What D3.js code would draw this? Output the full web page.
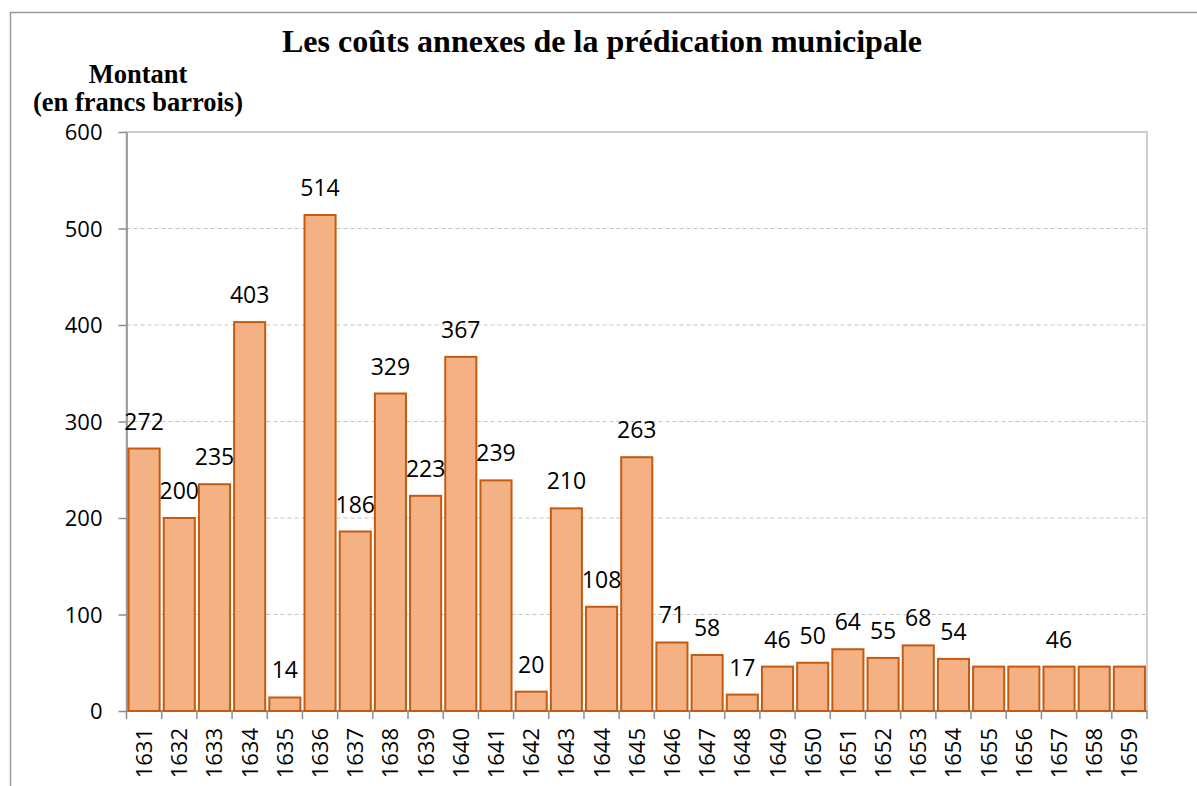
<!DOCTYPE html>
<html>
<head>
<meta charset="utf-8">
<script src="https://cdn.jsdelivr.net/npm/d3@7"></script>
<style>
  html, body { margin: 0; padding: 0; background: #fff; }
  svg { display: block; }
  .num { font-family: "Open Sans", "Noto Sans", sans-serif; font-size: 22px; fill: #000; }
  .lbl { font-size: 23px; }
  .serif { font-family: "Liberation Serif", "Times New Roman", serif; font-weight: bold; fill: #000; }
</style>
</head>
<body>
<svg id="chart" width="1197" height="786"></svg>
<script>
// ─── Data ────────────────────────────────────────────────────
const years = ["1631", "1632", "1633", "1634", "1635", "1636", "1637", "1638", "1639", "1640",
  "1641", "1642", "1643", "1644", "1645", "1646", "1647", "1648", "1649", "1650",
  "1651", "1652", "1653", "1654", "1655", "1656", "1657", "1658", "1659"];
const amounts = [272, 200, 235, 403, 14, 514, 186, 329, 223, 367,
  239, 20, 210, 108, 263, 71, 58, 17, 46, 50,
  64, 55, 68, 54, 46, 46, 46, 46, 46];
// years whose value label is not shown in the original
const unlabelled = ["1655", "1656", "1658", "1659"];
const yTicks = [0, 100, 200, 300, 400, 500, 600];

const title = "Les coûts annexes de la prédication municipale";
const yTitle = ["Montant", "(en francs barrois)"];

// ─── Layout ──────────────────────────────────────────────────
const svg = d3.select("#chart");
const plot = { left: 126.5, right: 1147, top: 132, bottom: 711 };

const x = d3.scaleBand()
  .domain(years)
  .range([plot.left, plot.right])
  .paddingInner(0.06)
  .paddingOuter(0.03);

const y = d3.scaleLinear()
  .domain([0, 600])
  .range([plot.bottom, plot.top]);

// outer chart frame
svg.append("rect")
  .attr("x", 10.5).attr("y", 12.5)
  .attr("width", 1300).attr("height", 900)
  .attr("fill", "none")
  .attr("stroke", "#9a9a9a")
  .attr("stroke-width", 1.5);

// plot area border
svg.append("rect")
  .attr("x", plot.left).attr("y", plot.top)
  .attr("width", plot.right - plot.left)
  .attr("height", plot.bottom - plot.top)
  .attr("fill", "none")
  .attr("stroke", "#cfcfcf")
  .attr("stroke-width", 2);

// gridlines
svg.append("g")
  .selectAll("line")
  .data(yTicks.filter((d) => d > 0 && d < 600))
  .join("line")
  .attr("x1", plot.left).attr("x2", plot.right)
  .attr("y1", (d) => y(d)).attr("y2", (d) => y(d))
  .attr("stroke", "#c4c4c4")
  .attr("stroke-width", 1)
  .attr("stroke-dasharray", "4,3");

// ─── Axes ────────────────────────────────────────────────────
const yAxis = svg.append("g")
  .attr("transform", `translate(${plot.left},0)`)
  .call(d3.axisLeft(y).tickValues(yTicks).tickSize(8).tickPadding(16).tickSizeOuter(0));
yAxis.select(".domain").attr("stroke", "#8c8c8c").attr("stroke-width", 1.5);
yAxis.selectAll(".tick line").attr("stroke", "#8c8c8c").attr("stroke-width", 1.5);
yAxis.selectAll(".tick text").attr("class", "num").attr("dy", "0.36em");

// x axis: ticks sit on the band boundaries
const xAxis = svg.append("g").attr("transform", `translate(0,${plot.bottom})`);
xAxis.append("line")
  .attr("x1", plot.left).attr("x2", plot.right)
  .attr("stroke", "#8c8c8c").attr("stroke-width", 2);
const bounds = years.map((d) => x(d) - x.step() * x.paddingInner() / 2);
bounds.push(plot.right);
bounds[0] = plot.left;
xAxis.selectAll("line.tick")
  .data(bounds)
  .join("line")
  .attr("class", "tick")
  .attr("x1", (d) => d).attr("x2", (d) => d)
  .attr("y1", 0).attr("y2", 8)
  .attr("stroke", "#8c8c8c").attr("stroke-width", 1.5);
xAxis.selectAll("text")
  .data(years)
  .join("text")
  .attr("class", "num")
  .attr("text-anchor", "end")
  .attr("transform", (d) => `translate(${x(d) + x.bandwidth() / 2 + 8},17) rotate(-90)`)
  .text((d) => d);

// ─── Bars ────────────────────────────────────────────────────
const rows = years.map((yr, i) => ({ year: yr, value: amounts[i] }));

svg.append("g")
  .selectAll("rect")
  .data(rows)
  .join("rect")
  .attr("x", (d) => x(d.year) + 1)
  .attr("y", (d) => y(d.value))
  .attr("width", x.bandwidth() - 2)
  .attr("height", (d) => y(0) - y(d.value))
  .attr("fill", "#f4b183")
  .attr("stroke", "#c55a11")
  .attr("stroke-width", 2);

svg.append("g")
  .selectAll("text")
  .data(rows.filter((d) => !unlabelled.includes(d.year)))
  .join("text")
  .attr("class", "num lbl")
  .attr("text-anchor", "middle")
  .attr("x", (d) => x(d.year) + x.bandwidth() / 2)
  .attr("y", (d) => y(d.value) - 19)
  .text((d) => d.value);

// ─── Titles ──────────────────────────────────────────────────
svg.append("text")
  .attr("class", "serif")
  .attr("x", 602).attr("y", 52)
  .attr("text-anchor", "middle")
  .attr("font-size", 32)
  .text(title);

svg.append("g")
  .selectAll("text")
  .data(yTitle)
  .join("text")
  .attr("class", "serif")
  .attr("x", 138)
  .attr("y", (d, i) => 83 + i * 28)
  .attr("text-anchor", "middle")
  .attr("font-size", 26.5)
  .text((d) => d);
</script>
</body>
</html>
